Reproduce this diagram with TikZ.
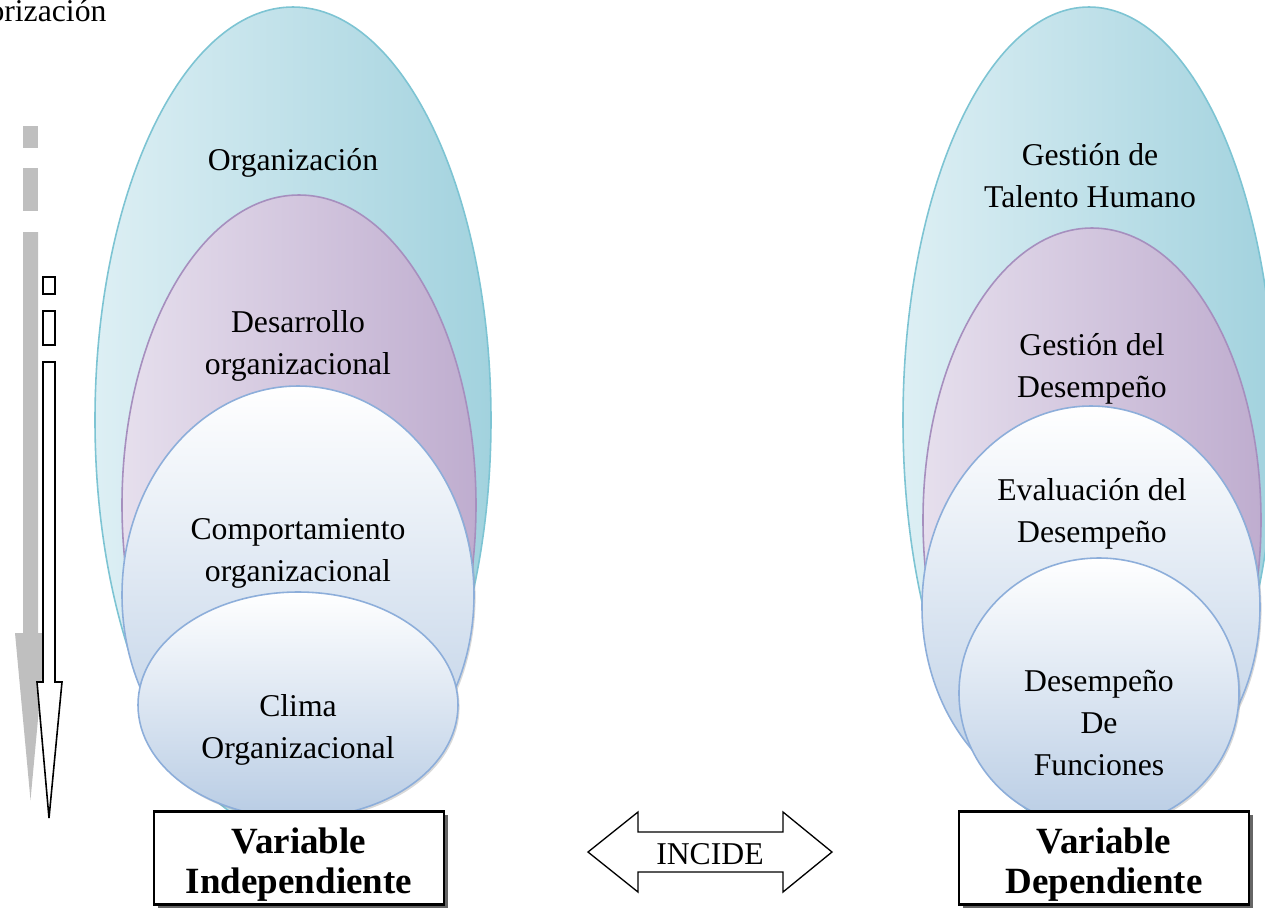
\documentclass[tikz,border=0pt]{standalone}
\usepackage{fontspec}
\setmainfont{Liberation Serif}
\usepackage{xcolor}
\usetikzlibrary{shapes.geometric,shadows}

\definecolor{tealline}{HTML}{7DC4D3}
\definecolor{teallight}{HTML}{DDEFF4}
\definecolor{tealdark}{HTML}{A2D2DE}
\definecolor{purline}{HTML}{A68FBE}
\definecolor{purlight}{HTML}{E6DFED}
\definecolor{purdark}{HTML}{BFADCF}
\definecolor{blueline}{HTML}{8DAEDA}
\definecolor{bluebottom}{HTML}{B8CCE4}
\definecolor{arrowgray}{HTML}{BFBFBF}

\tikzset{
	blob/.style 2 args={ellipse,inner sep=0pt,line width=0.6pt,
		minimum width={2*#1*0.3785pt},minimum height={2*#2*0.3785pt}},
	tealfill/.style={draw=tealline,left color=teallight,right color=tealdark},
	purfill/.style={draw=purline,left color=purlight,right color=purdark},
	bluefill/.style={draw=blueline,top color=white,bottom color=bluebottom,
		drop shadow={shadow xshift=0.6pt,shadow yshift=-0.8pt,opacity=0.3}},
	lbl/.style={font=\fontsize{12}{15.9}\selectfont,align=center},
	varbox/.style={draw,fill=white,line width=0.8pt,
		minimum width=109.5pt,minimum height=35.2pt,inner sep=0pt,
		drop shadow={shadow xshift=1.5pt,shadow yshift=-1.5pt,fill=black!60,opacity=1}},
	vartext/.style={align=center,font=\fontsize{14}{15.1}\selectfont\bfseries}
}

\begin{document}
\begin{tikzpicture}[x=0.3785pt,y=-0.3785pt]
	\useasboundingbox (0,0) rectangle (1265,909);
	% arrows at the left side
	\foreach \ya/\yb in {126/148,168/211}
		\fill[arrowgray] (23,\ya) rectangle (38,\yb);
	\fill[arrowgray] (23,232) -- (23,633) -- (15,633) -- (30.5,800) -- (46,633) -- (38,633) -- (38,232) -- cycle;
	\foreach \ya/\yb in {277/294,311/345}
		\draw[line width=0.6pt] (43,\ya) rectangle (55,\yb);
	\draw[line width=0.6pt,fill=white] (43,362) -- (43,682) -- (37,682) -- (49,818) -- (62,682) -- (55,682) -- (55,362) -- cycle;
	\node[lbl,anchor=base east,inner sep=0pt] (cat) at (107,21) {orización};

	% independiente
	\node[blob={198}{413},tealfill] (org) at (293,420) {};
	\node[blob={177}{310},purfill] (des) at (299,505) {};
	\node[blob={176}{209},bluefill] (com) at (298,595) {};
	\node[blob={160}{113},bluefill] (cli) at (298,705) {};
	\node[lbl] at (293,163) {Organización};
	\node[lbl] at (298,346) {Desarrollo\\organizacional};
	\node[lbl] at (298,553) {Comportamiento\\organizacional};
	\node[lbl] at (298,730) {Clima\\Organizacional};
	\node[varbox] (vi) at (299,858) {};
	\node[vartext] (vitxt) at (299,865) {Variable\\Independiente};

	% dependiente
	\node[blob={186}{413},tealfill] (gth) at (1089,420) {};
	\node[blob={169}{292},purfill] (gde) at (1092,520) {};
	\node[blob={169}{201},bluefill] (eva) at (1091,607) {};
	\node[blob={140}{135},bluefill] (fun) at (1099,693) {};
	\node[lbl] at (1090,176) {Gestión de\\Talento Humano};
	\node[lbl] at (1092,369) {Gestión del\\Desempeño};
	\node[lbl] at (1092,514) {Evaluación del\\Desempeño};
	\node[lbl] at (1099,723) {Desempeño\\De\\Funciones};
	\node[varbox] (vd) at (1104,858) {};
	\node[vartext] (vdtxt) at (1104,865) {Variable\\Dependiente};

	% incide
	\draw[line width=0.5pt,fill=white] (588,852) -- (638,812) -- (638,832) -- (783,832) -- (783,812) -- (832,852)
		-- (783,892) -- (783,872) -- (638,872) -- (638,892) -- cycle;
	\node[lbl] (inc) at (710,854) {INCIDE};
\end{tikzpicture}
\end{document}
